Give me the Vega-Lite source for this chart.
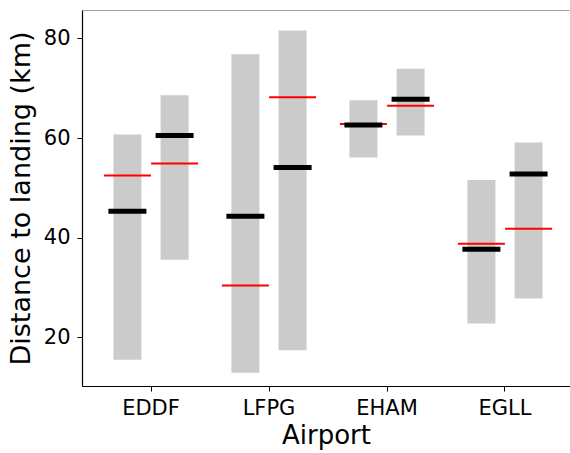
{
  "$schema": "https://vega.github.io/schema/vega-lite/v6.json",
  "autosize": "none",
  "width": 488,
  "height": 376,
  "padding": {"left": 82, "top": 10, "right": 0, "bottom": 67},
  "background": "white",
  "config": {
    "view": {"stroke": null},
    "font": "DejaVu Sans",
    "axis": {
      "labelFont": "DejaVu Sans",
      "titleFont": "DejaVu Sans",
      "labelColor": "black",
      "titleColor": "black",
      "titleFontWeight": "normal",
      "domainColor": "black",
      "tickColor": "black",
      "grid": false
    }
  },
  "data": {
    "values": [
      {"airport": "EDDF", "group": "1", "low": 15.5, "high": 60.7, "median": 45.3, "mean": 52.5},
      {"airport": "EDDF", "group": "2", "low": 35.6, "high": 68.6, "median": 60.5, "mean": 54.9},
      {"airport": "LFPG", "group": "1", "low": 12.9, "high": 76.8, "median": 44.3, "mean": 30.4},
      {"airport": "LFPG", "group": "2", "low": 17.4, "high": 81.6, "median": 54.1, "mean": 68.2},
      {"airport": "EHAM", "group": "1", "low": 56.1, "high": 67.6, "median": 62.6, "mean": 62.8},
      {"airport": "EHAM", "group": "2", "low": 60.5, "high": 73.9, "median": 67.8, "mean": 66.5},
      {"airport": "EGLL", "group": "1", "low": 22.8, "high": 51.6, "median": 37.7, "mean": 38.8},
      {"airport": "EGLL", "group": "2", "low": 27.8, "high": 59.1, "median": 52.8, "mean": 41.8}
    ]
  },
  "encoding": {
    "x": {
      "field": "airport",
      "type": "nominal",
      "sort": ["EDDF", "LFPG", "EHAM", "EGLL"],
      "scale": {"type": "band", "paddingInner": 0, "paddingOuter": 0.0678, "align": 0.625}
    },
    "xOffset": {
      "field": "group",
      "type": "nominal",
      "scale": {"paddingInner": 0, "paddingOuter": 0.25}
    }
  },
  "layer": [
    {
      "mark": {"type": "bar", "color": "#cbcbcb", "width": 28},
      "encoding": {
        "x": {
          "field": "airport",
          "type": "nominal",
          "sort": ["EDDF", "LFPG", "EHAM", "EGLL"],
          "scale": {"type": "band", "paddingInner": 0, "paddingOuter": 0.0678, "align": 0.625},
          "axis": {
            "orient": "bottom",
            "title": "Airport",
            "labelAngle": 0,
            "labelFontSize": 21,
            "titleFontSize": 26,
            "tickSize": 5,
            "labelPadding": 6,
            "titlePadding": 4,
            "domainWidth": 1.2
          }
        },
        "y": {
          "field": "low",
          "type": "quantitative",
          "scale": {"domain": [10.25, 85.7], "nice": false, "zero": false},
          "axis": {
            "title": "Distance to landing (km)",
            "values": [20, 40, 60, 80],
            "labelFontSize": 21,
            "titleFontSize": 27,
            "tickSize": 5,
            "labelPadding": 7,
            "titlePadding": 8,
            "domainWidth": 1.2
          }
        },
        "y2": {"field": "high"}
      }
    },
    {
      "mark": {"type": "tick", "color": "#ff0000", "size": 47, "thickness": 2, "opacity": 1},
      "encoding": {
        "x": {"field": "airport", "type": "nominal", "sort": ["EDDF", "LFPG", "EHAM", "EGLL"], "axis": null},
        "y": {"field": "mean", "type": "quantitative"}
      }
    },
    {
      "mark": {"type": "tick", "color": "black", "size": 38, "thickness": 5, "opacity": 1},
      "encoding": {
        "x": {
          "field": "airport",
          "type": "nominal",
          "sort": ["EDDF", "LFPG", "EHAM", "EGLL"],
          "axis": {
            "orient": "top",
            "title": null,
            "labels": false,
            "ticks": false,
            "domainColor": "#a6a6a6",
            "domainWidth": 1
          }
        },
        "y": {"field": "median", "type": "quantitative"}
      }
    }
  ],
  "resolve": {"axis": {"x": "independent"}}
}
